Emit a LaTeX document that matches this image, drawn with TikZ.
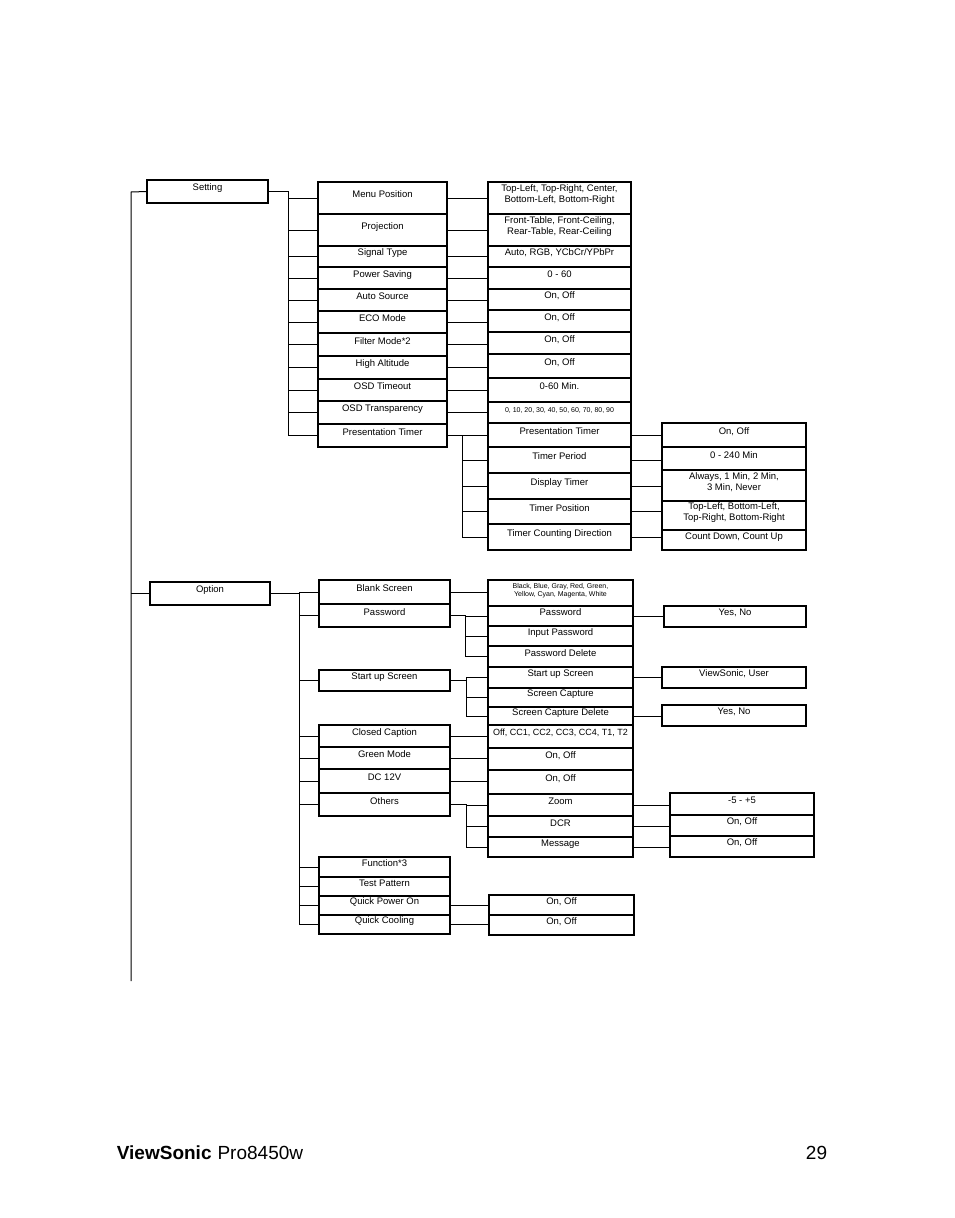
\documentclass[tikz,border=0pt]{standalone}
\usepackage{fontspec}
\setmainfont{Liberation Sans}
\usetikzlibrary{fit}
\tikzset{
	menu tree/.style={x=1pt,y=-1pt,line width=1.1pt,
		font=\fontsize{9.5}{11}\selectfont},
	cell/.style={draw,inner sep=0pt,align=center},
	tiny cell/.style={cell,font=\fontsize{7}{8}\selectfont},
	wire/.style={line width=1pt}
}
% a cell given by its corners in pixels
\newcommand\cell[6][]{\node[cell,#1,fit={(#3) (#4)}] (#2) {#5#6};}

\begin{document}
\begin{tikzpicture}[menu tree]
   \useasboundingbox (0,0) rectangle (954,1218);
   % top level
   \cell{set}{147,180}{268,203}{Setting}{}
   \cell{opt}{150,582}{270,605}{Option}{}
   \coordinate (trunk top) at (131,192);
   \coordinate (trunk end) at (131,981);
   \draw[wire] (set.west) -- (trunk top) -- (trunk end);
   \draw[wire] (opt.west) -- (opt.west -| trunk top);
   % Setting
   \cell{mp}{318,182}{447,214}{Menu Position}{}
   \cell{pj}{318,214}{447,246}{Projection}{}
   \cell{st}{318,246}{447,267}{Signal Type}{}
   \cell{ps}{318,267}{447,289}{Power Saving}{}
   \cell{as}{318,289}{447,311}{Auto Source}{}
   \cell{eco}{318,311}{447,333}{ECO Mode}{}
   \cell{fm}{318,333}{447,356}{Filter Mode*2}{}
   \cell{ha}{318,356}{447,379}{High Altitude}{}
   \cell{ot}{318,379}{447,401}{OSD Timeout}{}
   \cell{otr}{318,401}{447,424}{OSD Transparency}{}
   \cell{pt}{318,424}{447,447}{Presentation Timer}{}
   \foreach \n in {mp,pj,st,ps,as,eco,fm,ha,ot,otr,pt}
      \draw[wire] (set.east) -| ([xshift=-29pt]\n.west) -- (\n.west);
   \cell{mpv}{488,182}{631,214}{Top-Left, Top-Right, Center,\\Bottom-Left, Bottom-Right}{}
   \cell{pjv}{488,214}{631,246}{Front-Table, Front-Ceiling,\\Rear-Table, Rear-Ceiling}{}
   \cell{stv}{488,246}{631,267}{Auto, RGB, YCbCr/YPbPr}{}
   \cell{psv}{488,267}{631,289}{0 - 60}{}
   \cell{asv}{488,289}{631,310}{On, Off}{}
   \cell{ecov}{488,310}{631,332}{On, Off}{}
   \cell{fmv}{488,332}{631,354}{On, Off}{}
   \cell{hav}{488,354}{631,378}{On, Off}{}
   \cell{otv}{488,378}{631,402}{0-60 Min.}{}
   \cell[tiny cell]{otrv}{488,402}{631,423}{0, 10, 20, 30, 40, 50, 60, 70, 80, 90}{}
   \foreach \a/\b in {mp/mpv,pj/pjv,st/stv,ps/psv,as/asv,eco/ecov,fm/fmv,ha/hav,ot/otv,otr/otrv}
      \draw[wire] (\a.east) -- (\a.east -| \b.west);
   % Presentation Timer
   \cell{pt1}{488,423}{631,447}{Presentation Timer}{}
   \cell{pt2}{488,447}{631,473}{Timer Period}{}
   \cell{pt3}{488,473}{631,499}{Display Timer}{}
   \cell{pt4}{488,499}{631,524}{Timer Position}{}
   \cell{pt5}{488,524}{631,550}{Timer Counting Direction}{}
   \foreach \n in {pt1,pt2,pt3,pt4,pt5}
      \draw[wire] (pt.east) -| ([xshift=-25pt]\n.west) -- (\n.west);
   \cell{pt1v}{662,423}{806,447}{On, Off}{}
   \cell{pt2v}{662,447}{806,470}{0 - 240 Min}{}
   \cell{pt3v}{662,470}{806,501}{Always, 1 Min, 2 Min,\\3 Min, Never}{}
   \cell{pt4v}{662,501}{806,530}{Top-Left, Bottom-Left,\\Top-Right, Bottom-Right}{}
   \cell{pt5v}{662,530}{806,550}{Count Down, Count Up}{}
   \foreach \i in {1,...,5}
      \draw[wire] (pt\i.east) -- (pt\i.east -| pt\i v.west);
   % Option
   \cell{bs}{319,580}{450,604}{Blank Screen}{}
   \cell{pw}{319,604}{450,627}{Password}{}
   \cell{su}{319,670}{450,691}{Start up Screen}{}
   \cell{cc}{319,725}{450,747}{Closed Caption}{}
   \cell{gm}{319,747}{450,769}{Green Mode}{}
   \cell{dc}{319,769}{450,793}{DC 12V}{}
   \cell{oth}{319,793}{450,816}{Others}{}
   \cell{fn}{319,857}{450,877}{Function*3}{}
   \cell{tp}{319,877}{450,896}{Test Pattern}{}
   \cell{qp}{319,896}{450,915}{Quick Power On}{}
   \cell{qc}{319,915}{450,934}{Quick Cooling}{}
   \foreach \n in {bs,pw,su,cc,gm,dc,oth,fn,tp,qp,qc}
      \draw[wire] (opt.east) -| ([xshift=-19pt]\n.west) -- (\n.west);
   \cell[tiny cell]{bsv}{488,580}{633,606}{Black, Blue, Gray, Red, Green,\\Yellow, Cyan, Magenta, White}{}
   \cell[inner xsep=0pt]{ccv}{488,725}{633,748}{\fontsize{9}{10}\selectfont Off, CC1, CC2, CC3, CC4, T1, T2}{}
   \cell{gmv}{488,748}{633,770}{On, Off}{}
   \cell{dcv}{488,770}{633,794}{On, Off}{}
   \cell{qpv}{489,895}{634,915}{On, Off}{}
   \cell{qcv}{489,915}{634,935}{On, Off}{}
   \foreach \a/\b in {bs/bsv,cc/ccv,gm/gmv,dc/dcv,qp/qpv,qc/qcv}
      \draw[wire] (\a.east) -- (\a.east -| \b.west);
   % Password
   \cell{pw1}{488,606}{633,626}{Password}{}
   \cell{pw2}{488,626}{633,646}{Input Password}{}
   \cell{pw3}{488,646}{633,667}{Password Delete}{}
   \foreach \n in {pw1,pw2,pw3}
      \draw[wire] (pw.east) -| ([xshift=-22pt]\n.west) -- (\n.west);
   % Start up Screen
   \cell{su1}{488,667}{633,688}{Start up Screen}{}
   \cell{su2}{488,688}{633,707}{Screen Capture}{}
   \cell{su3}{488,707}{633,725}{Screen Capture Delete}{}
   \foreach \n in {su1,su2,su3}
      \draw[wire] (su.east) -| ([xshift=-21pt]\n.west) -- (\n.west);
   % Others
   \cell{ot1}{488,794}{633,816}{Zoom}{}
   \cell{ot2}{488,816}{633,837}{DCR}{}
   \cell{ot3}{488,837}{633,857}{Message}{}
   \foreach \n in {ot1,ot2,ot3}
      \draw[wire] (oth.east) -| ([xshift=-21pt]\n.west) -- (\n.west);
   % last column
   \cell{pw1v}{664,606}{806,627}{Yes, No}{}
   \cell{su1v}{662,667}{806,688}{ViewSonic, User}{}
   \cell{su3v}{662,705}{806,726}{Yes, No}{}
   \cell{ot1v}{670,793}{814,815}{-5 - +5}{}
   \cell{ot2v}{670,815}{814,836}{On, Off}{}
   \cell{ot3v}{670,836}{814,857}{On, Off}{}
   \foreach \a in {pw1,su1,su3,ot1,ot2,ot3}
      \draw[wire] (\a.east) -- (\a.east -| \a v.west);
   % footer
   \node[anchor=base west,font=\fontsize{19}{22}\selectfont] (brand) at (113,1159)
      {\textbf{ViewSonic}\hspace{6pt}Pro8450w};
   \node[anchor=base east,font=\fontsize{19}{22}\selectfont] (page) at (831,1159) {29};
\end{tikzpicture}
\end{document}
